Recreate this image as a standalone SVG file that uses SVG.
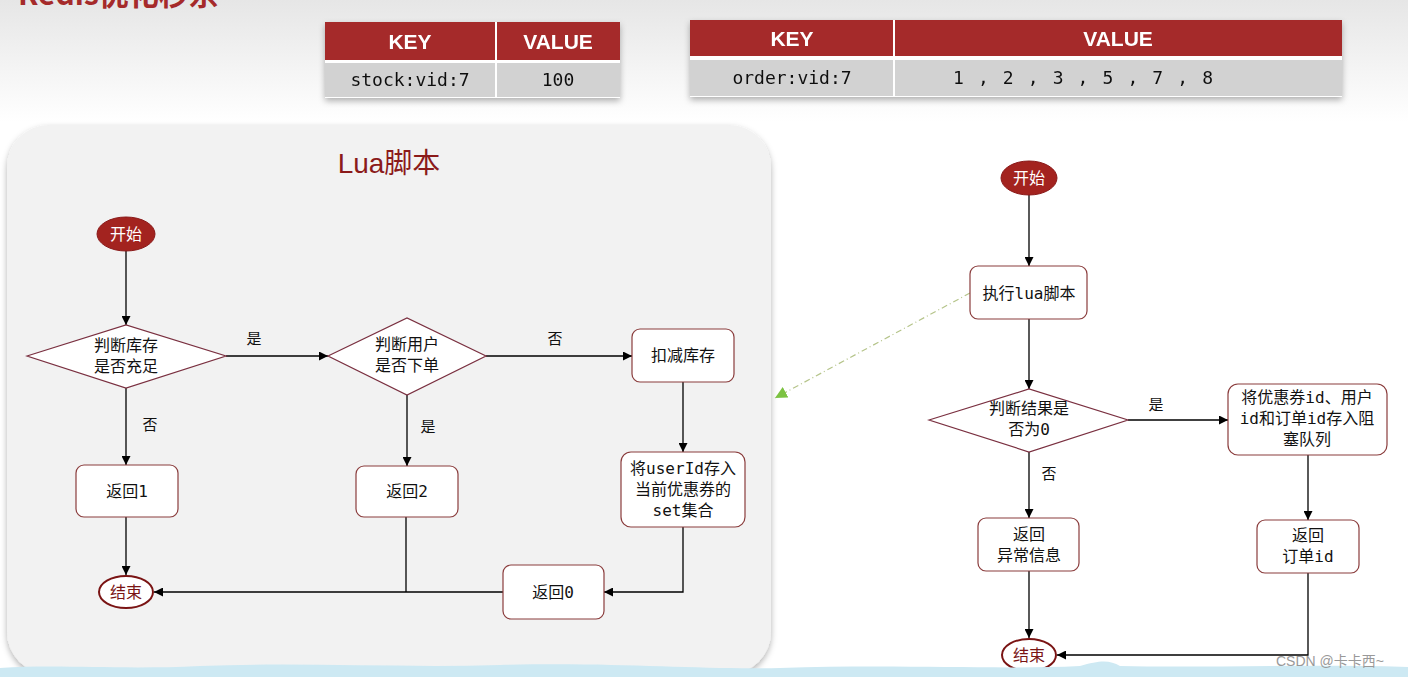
<svg xmlns="http://www.w3.org/2000/svg" width="1408" height="677" viewBox="0 0 1408 677">
<defs>
<linearGradient id="bg" x1="0" y1="0" x2="0" y2="1">
<stop offset="0" stop-color="#e6e6e6"/>
<stop offset="0.18" stop-color="#ffffff"/>
<stop offset="1" stop-color="#ffffff"/>
</linearGradient>
<filter id="sh" x="-5%" y="-5%" width="110%" height="120%">
<feDropShadow dx="0" dy="3" stdDeviation="3" flood-color="#000" flood-opacity="0.3"/>
</filter>
<marker id="ar" viewBox="0 0 10 10" refX="10" refY="5" markerWidth="9" markerHeight="9" markerUnits="userSpaceOnUse" orient="auto">
<path d="M0,0 L10,5 L0,10 z" fill="#000"/>
</marker>
<marker id="ag" viewBox="0 0 10 10" refX="10" refY="5" markerWidth="12" markerHeight="12" markerUnits="userSpaceOnUse" orient="auto">
<path d="M0,0 L10,5 L0,10 z" fill="#7cc242"/>
</marker>
<style>
.box{fill:#fff;stroke:#8a3c3c;stroke-width:1.2}
.dia{fill:#fff;stroke:#7a3040;stroke-width:1.2}
.start{fill:#a3231f;stroke:#8a1a1a;stroke-width:1}
.end{fill:#fff;stroke:#7a1414;stroke-width:2}
.t{font-family:"DejaVu Sans","Noto Sans CJK SC",sans-serif;font-size:16px;fill:#111;text-anchor:middle}
.tm{font-family:"DejaVu Sans Mono","Noto Sans CJK SC",monospace;font-size:16px;fill:#111;text-anchor:middle}
.tw{font-family:"DejaVu Sans","Noto Sans CJK SC",sans-serif;font-size:16px;fill:#fff;text-anchor:middle}
.tr{font-family:"DejaVu Sans","Noto Sans CJK SC",sans-serif;font-size:16px;fill:#7a1414;text-anchor:middle}
.lbl{font-family:"DejaVu Sans","Noto Sans CJK SC",sans-serif;font-size:15px;fill:#111;text-anchor:middle}
.ln{fill:none;stroke:#000;stroke-width:1.3}
.hd{fill:#a52a2a}
.cell{fill:#d2d2d2}
.th{font-family:"Liberation Sans Narrow","Liberation Sans",sans-serif;font-weight:bold;font-size:21px;fill:#fff;text-anchor:middle}
.td{font-family:"DejaVu Sans Mono",monospace;font-size:18px;fill:#111;text-anchor:middle}
.tdl{font-family:"DejaVu Sans Mono",monospace;font-size:18px;fill:#111;text-anchor:start}
</style>
</defs>
<rect x="0" y="0" width="1408" height="677" fill="url(#bg)"/>
<text x="18" y="5" font-family="Noto Sans CJK SC,sans-serif" font-size="30" font-weight="bold" fill="#a52a2a">Redis优化秒杀</text>

<g id="table1" filter="url(#sh)">
<rect x="325" y="22" width="295" height="76" fill="#fff"/>
<rect class="hd" x="325" y="22" width="170" height="38"/>
<rect class="hd" x="497" y="22" width="123" height="38"/>
<rect class="cell" x="325" y="63" width="170" height="34"/>
<rect class="cell" x="497" y="63" width="123" height="34"/>
<text class="th" x="410" y="49">KEY</text>
<text class="th" x="558" y="49">VALUE</text>
<text class="td" x="410" y="86">stock:vid:7</text>
<text class="td" x="558" y="86">100</text>
</g>
<g id="table2" filter="url(#sh)">
<rect x="690" y="20" width="652" height="77" fill="#fff"/>
<rect class="hd" x="690" y="20" width="203" height="36"/>
<rect class="hd" x="895" y="20" width="447" height="36"/>
<rect class="cell" x="690" y="60" width="203" height="36"/>
<rect class="cell" x="895" y="60" width="447" height="36"/>
<text class="th" x="792" y="46">KEY</text>
<text class="th" x="1118" y="46">VALUE</text>
<text class="td" x="792" y="84">order:vid:7</text>
<text class="tdl" x="953" y="84" textLength="260" lengthAdjust="spacing">1 , 2 , 3 , 5 , 7 , 8</text>
</g>

<g id="lua-panel">
<rect x="7" y="125" width="764" height="549" rx="42" fill="#f2f2f2" filter="url(#sh)"/>
<text x="389" y="173" font-family="Liberation Sans,Noto Sans CJK SC,sans-serif" font-size="28" fill="#8b1a1a" text-anchor="middle">Lua脚本</text>
</g>

<g id="connectors">
<line class="ln" x1="126" y1="251" x2="126" y2="325" marker-end="url(#ar)"/>
<line class="ln" x1="226" y1="356" x2="328" y2="356" marker-end="url(#ar)"/>
<line class="ln" x1="486" y1="356" x2="632" y2="356" marker-end="url(#ar)"/>
<line class="ln" x1="683" y1="382" x2="683" y2="452" marker-end="url(#ar)"/>
<polyline class="ln" points="683,527 683,592 604,592" marker-end="url(#ar)"/>
<line class="ln" x1="503" y1="592" x2="154" y2="592" marker-end="url(#ar)"/>
<line class="ln" x1="126" y1="388" x2="126" y2="465" marker-end="url(#ar)"/>
<line class="ln" x1="126" y1="517" x2="126" y2="575" marker-end="url(#ar)"/>
<line class="ln" x1="407" y1="395" x2="407" y2="466" marker-end="url(#ar)"/>
<line class="ln" x1="406" y1="517" x2="406" y2="592"/>
<line class="ln" x1="1029" y1="195" x2="1029" y2="266" marker-end="url(#ar)"/>
<line class="ln" x1="1029" y1="319" x2="1029" y2="389" marker-end="url(#ar)"/>
<line class="ln" x1="1128" y1="420" x2="1228" y2="420" marker-end="url(#ar)"/>
<line class="ln" x1="1308" y1="455" x2="1308" y2="520" marker-end="url(#ar)"/>
<polyline class="ln" points="1308,573 1308,655 1057,655" marker-end="url(#ar)"/>
<line class="ln" x1="1029" y1="452" x2="1029" y2="518" marker-end="url(#ar)"/>
<line class="ln" x1="1029" y1="571" x2="1029" y2="638" marker-end="url(#ar)"/>
<line x1="970" y1="293" x2="775" y2="398" stroke="#b5c48a" stroke-width="1.2" stroke-dasharray="6,3,1,3" marker-end="url(#ag)"/>
<text class="lbl" x="254" y="344">是</text>
<text class="lbl" x="555" y="344">否</text>
<text class="lbl" x="150" y="430">否</text>
<text class="lbl" x="428" y="432">是</text>
<text class="lbl" x="1156" y="410">是</text>
<text class="lbl" x="1049" y="479">否</text>
</g>

<g id="l-start"><ellipse class="start" cx="126" cy="234" rx="29" ry="17"/><text class="tw" x="126" y="240">开始</text></g>
<g id="l-check-stock"><polygon class="dia" points="27,356 126,325 226,356 126,388"/><text class="t" x="126" y="351">判断库存</text><text class="t" x="126" y="372">是否充足</text></g>
<g id="l-check-user"><polygon class="dia" points="328,356 407,318 486,356 407,395"/><text class="t" x="407" y="350">判断用户</text><text class="t" x="407" y="371">是否下单</text></g>
<g id="l-deduct"><rect class="box" x="632" y="329" width="102" height="53" rx="8"/><text class="t" x="683" y="361">扣减库存</text></g>
<g id="l-save"><rect class="box" x="621" y="452" width="124" height="75" rx="10"/><text class="tm" x="683" y="474">将userId存入</text><text class="tm" x="683" y="495">当前优惠券的</text><text class="tm" x="683" y="516">set集合</text></g>
<g id="l-ret0"><rect class="box" x="503" y="565" width="101" height="54" rx="8"/><text class="tm" x="553" y="598">返回0</text></g>
<g id="l-ret1"><rect class="box" x="76" y="465" width="102" height="52" rx="8"/><text class="tm" x="127" y="497">返回1</text></g>
<g id="l-ret2"><rect class="box" x="356" y="466" width="102" height="51" rx="8"/><text class="tm" x="407" y="497">返回2</text></g>
<g id="l-end"><ellipse class="end" cx="126" cy="592" rx="27" ry="16"/><text class="tr" x="126" y="598">结束</text></g>

<g id="r-start"><ellipse class="start" cx="1029" cy="178" rx="28" ry="17"/><text class="tw" x="1029" y="184">开始</text></g>
<g id="r-exec"><rect class="box" x="970" y="266" width="117" height="53" rx="8"/><text class="tm" x="1029" y="299">执行lua脚本</text></g>
<g id="r-check"><polygon class="dia" points="929,420 1029,389 1128,420 1029,452"/><text class="t" x="1029" y="414">判断结果是</text><text class="tm" x="1029" y="435">否为0</text></g>
<g id="r-queue"><rect class="box" x="1228" y="384" width="159" height="71" rx="10"/><text class="tm" x="1307" y="403">将优惠券id、用户</text><text class="tm" x="1307" y="424">id和订单id存入阻</text><text class="tm" x="1307" y="445">塞队列</text></g>
<g id="r-ret-id"><rect class="box" x="1257" y="520" width="102" height="53" rx="8"/><text class="tm" x="1308" y="541">返回</text><text class="tm" x="1308" y="562">订单id</text></g>
<g id="r-ret-err"><rect class="box" x="978" y="518" width="101" height="53" rx="8"/><text class="t" x="1029" y="540">返回</text><text class="t" x="1029" y="561">异常信息</text></g>
<g id="r-end"><ellipse class="end" cx="1029" cy="655" rx="27" ry="16"/><text class="tr" x="1029" y="661">结束</text></g>

<path d="M0,677 L0,668 C60,664 120,670 200,666 C300,662 400,668 500,665 C620,662 700,670 780,668 C900,664 1000,670 1080,666 C1100,660 1110,660 1120,666 C1200,668 1300,664 1408,667 L1408,677 Z" fill="#cde9f3"/>
<text x="1276" y="666" font-family="Liberation Sans,Noto Sans CJK SC,sans-serif" font-size="14" fill="#999">CSDN @卡卡西~</text>
</svg>
